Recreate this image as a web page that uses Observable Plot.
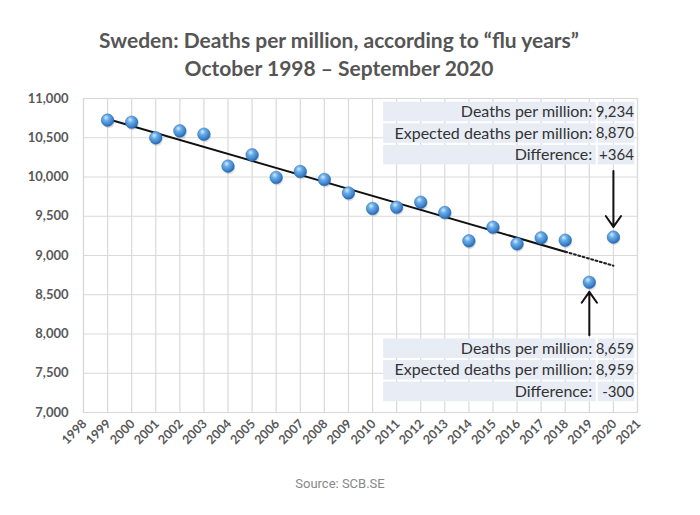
<!DOCTYPE html>
<html>
<head>
<meta charset="utf-8">
<script src="https://cdn.jsdelivr.net/npm/d3@7"></script>
<script src="https://cdn.jsdelivr.net/npm/@observablehq/plot@0.6"></script>
<style>
  body { margin: 0; background: #fff; }
  #title { width: 678px; padding-top: 26px; height: 59px; text-align: center;
    font-family: Lato, sans-serif; font-weight: bold; font-size: 21px; line-height: 28px; color: #555; }
  #source { width: 680px; text-align: center; padding-top: 12px; font-family: Roboto, sans-serif;
    font-size: 13px; line-height: 14px; color: #888; }
</style>
</head>
<body>
<div id="title">Sweden: Deaths per million, according to “flu years”<br>October 1998 – September 2020</div>
<div id="chart"></div>
<div id="source">Source: SCB.SE</div>
<script>
// ---- data ----
const years = [1999, 2000, 2001, 2002, 2003, 2004, 2005, 2006, 2007, 2008, 2009, 2010,
               2011, 2012, 2013, 2014, 2015, 2016, 2017, 2018, 2019, 2020];
const deaths = [10724, 10698, 10498, 10587, 10545, 10138, 10282, 9994, 10070, 9968, 9797, 9599,
                9615, 9679, 9548, 9186, 9360, 9148, 9224, 9195, 8659, 9234];
const trendSolidYears = [1999, 2018];
const trendSolidValues = [10739, 9048];
const trendDottedYears = [2018, 2020];
const trendDottedValues = [9048, 8870];
const xTickYears = d3.range(1998, 2022);
const yTicks = [7000, 7500, 8000, 8500, 9000, 9500, 10000, 10500, 11000];
const topLabels = ["Deaths per million:", "Expected deaths per million:", "Difference:"];
const topValues = ["9,234", "8,870", "+364"];
const bottomLabels = ["Deaths per million:", "Expected deaths per million:", "Difference:"];
const bottomValues = ["8,659", "8,959", "-300"];

// ---- annotation placement (data units) ----
const boxX1 = 2010.46, boxSplit = 2019.33, boxX2 = 2020.89;
const topBoxTop = 10966, bottomBoxTop = 7950, rowH = 275;

const points = years.map((y, i) => ({year: y, value: deaths[i]}));
const solid = trendSolidYears.map((y, i) => ({year: y, value: trendSolidValues[i]}));
const dotted = trendDottedYears.map((y, i) => ({year: y, value: trendDottedValues[i]}));

function rows(labels, values, top) {
  return labels.map((l, i) => ({label: l, val: values[i], y1: top - i * rowH, y2: top - (i + 1) * rowH}));
}
const topRows = rows(topLabels, topValues, topBoxTop);
const botRows = rows(bottomLabels, bottomValues, bottomBoxTop);
const allRows = topRows.concat(botRows);

const arrows = [
  {x: 2020, y1: 10078, y2: 9364},
  {x: 2019, y1: 7985, y2: 8537}
];

const gray = "#d9d9d9";
const boxFill = "#e8ecf5";
const textStyle = {fontFamily: "Lato, sans-serif", fill: "#333"};

const plot = Plot.plot({
  width: 700,
  height: 380,
  marginTop: 13,
  marginBottom: 53,
  marginLeft: 83,
  marginRight: 63,
  style: {fontFamily: "Lato, sans-serif", background: "#fff"},
  x: {domain: [1998, 2021], axis: null},
  y: {domain: [7000, 11000], axis: null},
  marks: [
    Plot.ruleX(xTickYears, {x: d => d, stroke: gray, strokeWidth: 1.2}),
    Plot.ruleY(yTicks, {y: d => d, stroke: gray, strokeWidth: 1.2}),
    Plot.frame({stroke: gray, strokeWidth: 1.2}),
    // y tick labels
    Plot.text(yTicks, {y: d => d, text: d => d3.format(",")(d), frameAnchor: "left", textAnchor: "end",
      dx: -15, fontSize: 13, fontWeight: "bold", fill: "#595959"}),
    // x tick labels
    Plot.text(xTickYears, {x: d => d, text: d => String(d), frameAnchor: "bottom", textAnchor: "end",
      rotate: -45, dx: 4, dy: 12, fontSize: 12.5, fontWeight: "bold", fill: "#595959"}),
    // trend lines
    Plot.line(solid, {x: "year", y: "value", stroke: "#111", strokeWidth: 2}),
    Plot.line(dotted, {x: "year", y: "value", stroke: "#222", strokeWidth: 2, strokeDasharray: "2,2.5"}),
    // annotation boxes
    Plot.rect(allRows, {x1: boxX1, x2: boxSplit, y1: "y1", y2: "y2", fill: boxFill, insetTop: 1, insetBottom: 1, insetRight: 1}),
    Plot.rect(allRows, {x1: boxSplit, x2: boxX2, y1: "y1", y2: "y2", fill: boxFill, insetTop: 1, insetBottom: 1, insetLeft: 1}),
    Plot.text(allRows, {x: boxSplit, y: d => (d.y1 + d.y2) / 2, text: "label", textAnchor: "end", dx: -5, fontSize: 16, ...textStyle}),
    Plot.text(allRows, {x: boxX2, y: d => (d.y1 + d.y2) / 2, text: "val", textAnchor: "end", dx: -1, fontSize: 15, ...textStyle}),
    // arrows
    Plot.arrow(arrows, {x: "x", y1: "y1", y2: "y2", stroke: "#111", strokeWidth: 2, headLength: 10, headAngle: 70}),
    // dots: shadow + ball
    Plot.dot(points, {x: "year", y: "value", r: 6, fill: "#000", fillOpacity: 0.12, dx: 1, dy: 2}),
    Plot.dot(points, {x: "year", y: "value", r: 6.3, fill: "url(#ball)", stroke: "#2f6fb5", strokeWidth: 0.5})
  ]
});

const defs = `<defs><radialGradient id="ball" cx="40%" cy="35%" r="65%" fx="38%" fy="30%">
  <stop offset="0%" stop-color="#d6ebff"/>
  <stop offset="35%" stop-color="#6aaee8"/>
  <stop offset="80%" stop-color="#3a82cc"/>
  <stop offset="100%" stop-color="#2a64a8"/>
</radialGradient></defs>`;
plot.insertAdjacentHTML("afterbegin", defs);
document.getElementById("chart").appendChild(plot);
</script>
</body>
</html>
